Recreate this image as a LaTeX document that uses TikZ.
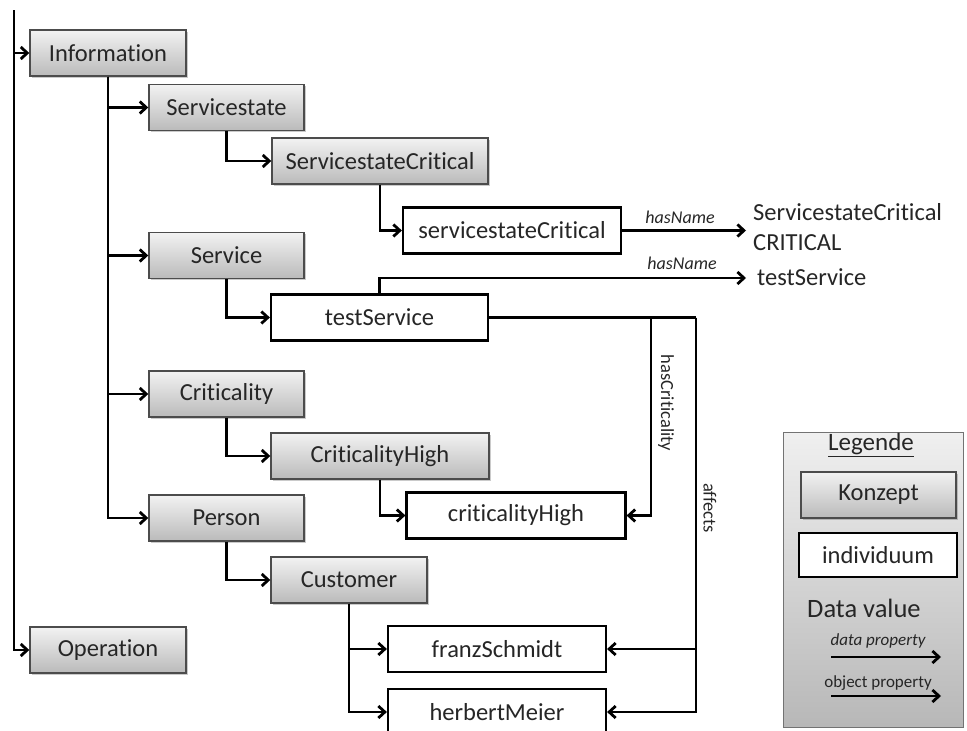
\documentclass[tikz,border=0pt]{standalone}
\usepackage{fontspec}
\setmainfont{Carlito}[Ligatures=NoCommon]
\usetikzlibrary{arrows.meta,shadows}
\definecolor{txt}{HTML}{262626}
\tikzset{
  concept/.style={draw=black!70, line width=1.4pt, top color=black!5, bottom color=black!27,
    drop shadow={shadow xshift=1.5pt, shadow yshift=-1.5pt, opacity=0.35, fill=black!60},
    minimum height=46pt, inner sep=0pt, text=txt, font=\fontsize{24.5}{28}\selectfont},
  indiv/.style={draw=black, line width=2.2pt, fill=white,
    minimum height=46pt, inner sep=0pt, text=txt, font=\fontsize{24.5}{28}\selectfont},
  conn/.style={line width=2.8pt, black},
  arr/.style={conn, -{Straight Barb[length=6.5pt,width=12pt]}},
  dval/.style={anchor=west, inner sep=0pt, text=txt, align=left, font=\fontsize{24.5}{30}\selectfont},
  dlab/.style={inner sep=0pt, text=txt, font=\fontsize{18}{20}\selectfont\itshape},
  olab/.style={inner sep=0pt, text=txt, rotate=-90, font=\fontsize{18.5}{20}\selectfont},
}
\begin{document}
\begin{tikzpicture}[x=1pt,y=-1pt]
\useasboundingbox (0,0) rectangle (967,731);
\clip (0,0) rectangle (967,731);
% concepts
\node[concept, minimum width=156pt] (Information) at (108,53) {Information};
\node[concept, minimum width=155pt] (Servicestate) at (226.5,107.5) {Servicestate};
\node[concept, minimum width=216pt] (ServicestateCritical) at (380,161) {ServicestateCritical};
\node[concept, minimum width=155pt] (Service) at (226.5,255.5) {Service};
\node[concept, minimum width=155pt] (Criticality) at (226.5,394) {Criticality};
\node[concept, minimum width=218pt] (CriticalityHigh) at (380,456) {CriticalityHigh};
\node[concept, minimum width=155pt] (Person) at (226.5,518) {Person};
\node[concept, minimum width=156pt] (Customer) at (349,580) {Customer};
\node[concept, minimum width=156pt] (Operation) at (108,650) {Operation};
% individuals
\node[indiv, minimum width=218pt] (sc) at (512,230.5) {servicestateCritical};
\node[indiv, minimum width=217pt] (testService) at (379.5,317.5) {testService};
\node[indiv, minimum width=219pt] (ch) at (516,515.5) {criticalityHigh};
\node[indiv, minimum width=218pt] (franz) at (497,649) {franzSchmidt};
\node[indiv, minimum width=218pt] (herbert) at (497,712) {herbertMeier};
% data values
\node[dval] (dv1) at (753,227) {ServicestateCritical\\CRITICAL};
\node[dval] (dv2) at (757,277.5) {testService};
% hierarchy
\coordinate (top) at (14,10);
\draw[arr] (top) |- (Information.west);
\draw[arr] (top) |- (Operation.west);
\draw[arr] (Information.south) |- (Servicestate.west);
\draw[arr] (Information.south) |- (Service.west);
\draw[arr] (Information.south) |- (Criticality.west);
\draw[arr] (Information.south) |- (Person.west);
\draw[arr] (Servicestate.south) |- (ServicestateCritical.west);
\draw[arr] (ServicestateCritical.south) |- (sc.west);
\draw[arr] (Service.south) |- (testService.west);
\draw[arr] (Criticality.south) |- (CriticalityHigh.west);
\draw[arr] (CriticalityHigh.south) |- (ch.west);
\draw[arr] (Person.south) |- (Customer.west);
\draw[arr] (Customer.south) |- (franz.west);
\draw[arr] (Customer.south) |- (herbert.west);
% data properties
\coordinate (e1) at (746,230.5);
\coordinate (e2) at (746,278);
\draw[arr] (sc.east) -- (e1);
\draw[arr] (testService.north) |- (e2);
\node[dlab] (hn1) at (680,217) {hasName};
\node[dlab] (hn2) at (682,263.5) {hasName};
% object properties
\coordinate (hc) at (651,317.5);
\coordinate (af) at (696,317.5);
\draw[conn] (testService.east) -- (af);
\draw[arr] (hc) |- (ch.east);
\draw[arr] (af) |- (franz.east);
\draw[arr] (af) |- (herbert.east);
\node[olab] (lhc) at (666,403) {hasCriticality};
\node[olab] (laf) at (710,508) {affects};
% legend
\node[draw=black!55, line width=1pt, top color=black!6, bottom color=black!28,
  minimum width=180pt, minimum height=295pt, inner sep=0pt] (legend) at (873,579.5) {};
\node[inner sep=0pt, text=txt, font=\fontsize{25}{28}\selectfont] (lt) at (871,445) {\underline{Legende}};
\node[concept, minimum width=155pt] (lk) at (878.5,495) {Konzept};
\node[indiv, minimum width=158pt, minimum height=44pt] (li) at (878,555) {individuum};
\node[dval, font=\fontsize{26.5}{30}\selectfont] (ld) at (807,608) {Data value};
\node[inner sep=0pt, text=txt, font=\fontsize{17}{18}\selectfont\itshape] (ldp) at (878,641) {data property};
\coordinate (d1) at (831,657);
\coordinate (d2) at (941,657);
\draw[arr] (d1) -- (d2);
\node[inner sep=0pt, text=txt, font=\fontsize{17}{18}\selectfont] (lop) at (878,683) {object property};
\coordinate (o1) at (831,696);
\coordinate (o2) at (941,696);
\draw[arr] (o1) -- (o2);
\end{tikzpicture}
\end{document}
